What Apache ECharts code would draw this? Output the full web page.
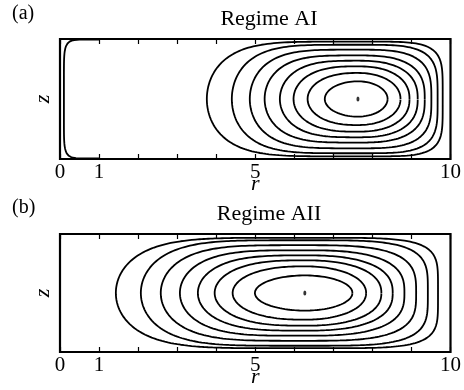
<!DOCTYPE html>
<html>
<head>
<meta charset="utf-8">
<script src="https://cdn.jsdelivr.net/npm/echarts@6/dist/echarts.min.js"></script>
<style>
  html, body { margin: 0; padding: 0; background: #fff; }
  #chart { width: 464px; height: 390px; }
</style>
</head>
<body>
<div id="chart"></div>
<script>
// tick labels on the r axis
var rLabels = [0, 1, 5, 10];

// panel (a) Regime AI : contour extents (outer -> inner)
var aCentre = [7.63, 0.5];
var aLeft  = [3.76, 4.40, 4.86, 5.24, 5.63, 5.98, 6.34, 6.78];
var aRight = [9.80, 9.67, 9.51, 9.34, 9.16, 8.95, 8.72, 8.39];
var aHalf  = [0.478, 0.452, 0.411, 0.363, 0.319, 0.272, 0.217, 0.147];
// shape of each side: left tip power, right box power
var aTipL  = [5.0, 4.6, 4.2, 3.8, 3.3, 2.8, 2.4, 2.0];
var aBoxR  = [5.0, 4.0, 3.3, 2.8, 2.5, 2.3, 2.1, 2.0];
// small cell hugging the left wall: [left r, end r, half height, power]
var aWall  = [0.10, 1.0, 0.495, 8];

// panel (b) Regime AII
var bCentre = [6.27, 0.5];
var bLeft  = [1.43, 2.07, 2.58, 3.07, 3.53, 3.96, 4.42, 4.99];
var bRight = [9.68, 9.42, 9.12, 8.82, 8.52, 8.23, 7.84, 7.49];
var bHalf  = [0.468, 0.447, 0.405, 0.362, 0.319, 0.277, 0.226, 0.149];
var bTipL  = [5.0, 4.6, 4.2, 3.8, 3.3, 2.8, 2.4, 2.0];
var bBoxR  = [5.0, 4.0, 3.3, 2.8, 2.5, 2.3, 2.1, 2.0];

var chart = echarts.init(document.getElementById('chart'));

// half-height profile along one side, t = 0 at centre, 1 at the tip
function prof(t, m, k) {
  return Math.pow(Math.max(0, 1 - Math.pow(t, m)), 1 / k);
}

// one side of a contour, from the top (t=0) to the tip (t=1), dir = -1 left / +1 right
function side(rc, zc, a, half, m, k, dir) {
  var pts = [];
  var n = 160;
  for (var i = 0; i <= n; i++) {
    var u = i / n;
    var t = 1 - Math.pow(1 - u, 3);
    pts.push([rc + dir * a * t, zc + half * prof(t, m, k)]);
  }
  return pts;
}

function contour(rc, zc, left, right, half, tipL, boxR) {
  var R = side(rc, zc, right - rc, half, boxR, boxR, 1);
  var L = side(rc, zc, rc - left, half, tipL, 2, -1);
  var mirror = function (p) { return [p[0], 2 * zc - p[1]]; };
  var up = R.slice().reverse().concat(L.slice(1));           // right tip -> top -> left tip
  var down = L.slice().reverse().map(mirror).concat(R.slice(1).map(mirror)); // left tip -> bottom -> right tip
  return up.concat(down.slice(1));
}

var serif = 'Liberation Serif';
var series = [];

function addPanel(idx, centre, L, R, H, TL, BR) {
  for (var i = 0; i < L.length; i++) {
    series.push({
      type: 'line', xAxisIndex: idx * 2, yAxisIndex: idx, showSymbol: false, silent: true,
      lineStyle: { color: '#000', width: 1.8 },
      data: contour(centre[0], centre[1], L[i], R[i], H[i], TL[i], BR[i])
    });
  }
  series.push({
    type: 'scatter', xAxisIndex: idx * 2, yAxisIndex: idx, silent: true,
    symbol: 'circle', symbolSize: [3, 5], itemStyle: { color: '#000' },
    data: [centre]
  });
}
addPanel(0, aCentre, aLeft, aRight, aHalf, aTipL, aBoxR);
addPanel(1, bCentre, bLeft, bRight, bHalf, bTipL, bBoxR);

// wall contour in (a): left half only
var wallUp = side(aWall[1], 0.5, aWall[1] - aWall[0], aWall[2], aWall[3], aWall[3], -1);
var wallDown = wallUp.slice().reverse().map(function (p) { return [p[0], 1 - p[1]]; });
series.push({
  type: 'line', xAxisIndex: 0, yAxisIndex: 0, showSymbol: false, silent: true,
  lineStyle: { color: '#000', width: 1.8 },
  data: wallUp.concat(wallDown.slice(1))
});

function xAxes(grid) {
  var base = {
    gridIndex: grid, type: 'value', min: 0, max: 10, interval: 1,
    axisLine: { show: false },
    splitLine: { show: false },
    axisTick: { inside: true, length: 5, lineStyle: { color: '#000', width: 1.2 } }
  };
  var bottom = echarts.util.merge({
    position: 'bottom',
    name: 'r', nameLocation: 'middle', nameGap: 14, nameMoveOverlap: false,
    nameTextStyle: { fontFamily: serif, fontStyle: 'italic', fontSize: 22, color: '#000' },
    axisLabel: {
      margin: 3, fontFamily: serif, fontSize: 21, color: '#000', showMaxLabel: true, showMinLabel: true,
      formatter: function (v) { return rLabels.indexOf(v) >= 0 ? String(v) : ''; }
    }
  }, base, true);
  var top = echarts.util.merge({ position: 'top', axisLabel: { show: false } }, base, true);
  return [bottom, top];
}

function yAxis(grid) {
  return {
    gridIndex: grid, type: 'value', min: 0, max: 1,
    axisLine: { show: false }, axisTick: { show: false }, axisLabel: { show: false },
    splitLine: { show: false },
    name: 'z', nameLocation: 'middle', nameGap: 6, nameRotate: 90, nameMoveOverlap: false,
    nameTextStyle: { fontFamily: serif, fontStyle: 'italic', fontSize: 22, color: '#000' }
  };
}

function label(text, x, y, size, align) {
  return {
    type: 'text', x: x, y: y, silent: true,
    style: { text: text, fill: '#000', font: size + 'px "' + serif + '"', align: align, verticalAlign: 'middle' }
  };
}

var option = {
  animation: false,
  backgroundColor: '#fff',
  graphic: [
    label('(a)', 12, 14, 20, 'left'),
    label('Regime AI', 269, 19, 22, 'center'),
    label('(b)', 12, 208, 20, 'left'),
    label('Regime AII', 269, 214, 22, 'center')
  ],
  grid: [
    { left: 60, top: 39, width: 391, height: 120, show: true, borderColor: '#000', borderWidth: 2.2, backgroundColor: 'transparent' },
    { left: 60, top: 234, width: 391, height: 118, show: true, borderColor: '#000', borderWidth: 2.2, backgroundColor: 'transparent' }
  ],
  xAxis: xAxes(0).concat(xAxes(1)),
  yAxis: [yAxis(0), yAxis(1)],
  series: series
};

chart.setOption(option);
</script>
</body>
</html>
